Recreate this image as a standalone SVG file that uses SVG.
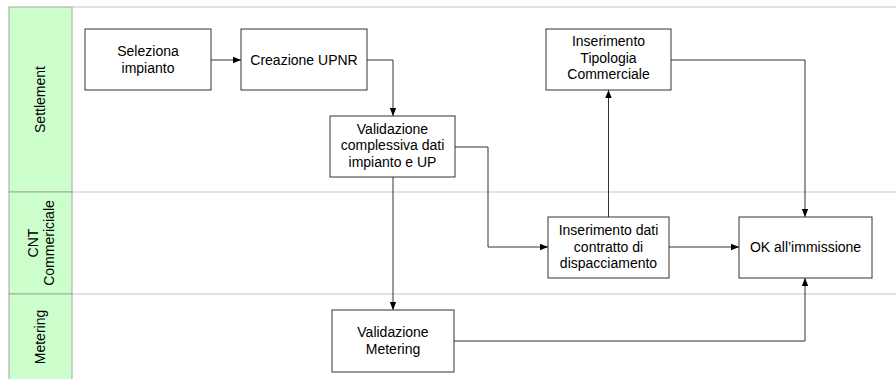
<svg xmlns="http://www.w3.org/2000/svg" width="896" height="379" viewBox="0 0 896 379">
<style>
text{font-family:"Liberation Sans",Arial,sans-serif;font-size:14px;fill:#000;text-anchor:middle}
.hdr{fill:#ccffcc;stroke:#a6a6a6;stroke-width:1}
.sep{stroke:#d9d9d9;stroke-width:1.5;fill:none}
.box{fill:#fff;stroke:#333;stroke-width:1}
.con{fill:none;stroke:#333;stroke-width:1;marker-end:url(#ah)}
</style>
<defs>
<marker id="ah" markerUnits="userSpaceOnUse" markerWidth="8" markerHeight="8" viewBox="0 0 8 8" refX="8" refY="4" orient="auto">
<path d="M0,0.8 L8,4 L0,7.2 Z" fill="#000"/>
</marker>
</defs>
<rect width="896" height="379" fill="#fff"/>
<g id="lanes">
<line class="sep" x1="72" y1="7" x2="896" y2="7"/>
<line class="sep" x1="72" y1="192" x2="896" y2="192"/>
<line class="sep" x1="72" y1="294" x2="896" y2="294"/>
<rect class="hdr" x="9" y="7" width="63" height="185"/>
<rect class="hdr" x="9" y="192" width="63" height="102"/>
<rect class="hdr" x="9" y="294" width="63" height="90"/>
<text transform="translate(45,99.5) rotate(-90)">Settlement</text>
<text transform="translate(37.5,243) rotate(-90)">CNT</text>
<text transform="translate(53.5,243) rotate(-90)">Commericiale</text>
<text transform="translate(45,337) rotate(-90)">Metering</text>
</g>
<g id="connectors">
<path class="con" d="M211,60 H241"/>
<path class="con" d="M367,60 H393 V116"/>
<path class="con" d="M393,177 V310"/>
<path class="con" d="M455,147 H488 V247 H548"/>
<path class="con" d="M608.5,217 V90"/>
<path class="con" d="M671,60 H805 V217"/>
<path class="con" d="M669,247 H739"/>
<path class="con" d="M454,341 H805 V278"/>
</g>
<g id="seleziona">
<rect class="box" x="85" y="29" width="126" height="61"/>
<text x="148" y="56">Seleziona</text>
<text x="148" y="73">impianto</text>
</g>
<g id="creazione">
<rect class="box" x="241" y="29" width="126" height="61"/>
<text x="304" y="64.5">Creazione UPNR</text>
</g>
<g id="validazione">
<rect class="box" x="330" y="116" width="125" height="61"/>
<text x="392.5" y="133.5">Validazione</text>
<text x="392.5" y="150">complessiva dati</text>
<text x="392.5" y="166.5">impianto e UP</text>
</g>
<g id="tipologia">
<rect class="box" x="546" y="29" width="125" height="61"/>
<text x="608.5" y="46">Inserimento</text>
<text x="608.5" y="62.5">Tipologia</text>
<text x="608.5" y="79">Commerciale</text>
</g>
<g id="contratto">
<rect class="box" x="548" y="217" width="121" height="61"/>
<text x="608.5" y="235">Inserimento dati</text>
<text x="608.5" y="251.5">contratto di</text>
<text x="608.5" y="268">dispacciamento</text>
</g>
<g id="ok">
<rect class="box" x="739" y="217" width="133" height="61"/>
<text x="805.5" y="252">OK all’immissione</text>
</g>
<g id="metering">
<rect class="box" x="332" y="310" width="122" height="62"/>
<text x="393" y="337">Validazione</text>
<text x="393" y="353.5">Metering</text>
</g>
</svg>
